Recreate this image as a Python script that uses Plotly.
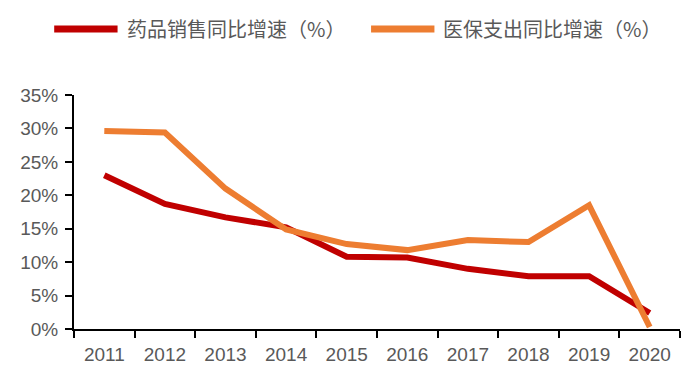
import plotly.graph_objects as go

years = ["2011", "2012", "2013", "2014", "2015", "2016", "2017", "2018", "2019", "2020"]
drug_sales = [23.0, 18.7, 16.7, 15.2, 10.8, 10.7, 9.0, 7.9, 7.9, 2.4]
insurance_spend = [29.6, 29.4, 21.0, 14.9, 12.7, 11.8, 13.3, 13.0, 18.5, 0.3]
names = ["药品销售同比增速（%）", "医保支出同比增速（%）"]
colors = ["#C00000", "#ED7D31"]
y_ticks = [0, 5, 10, 15, 20, 25, 30, 35]
y_labels = [f"{v}%" for v in y_ticks]

fig = go.Figure()
for vals, nm, c in zip([drug_sales, insurance_spend], names, colors):
    fig.add_trace(go.Scatter(x=years, y=vals, name=nm, mode="lines",
                             line=dict(color=c, width=6), showlegend=False))

# page offset (body margin) = 8px
OFF = 8
FW, FH = 695 - OFF, 388 - OFF
L, R, T, B = 68 - OFF, 15, 95 - OFF, 59
W, H = FW - L - R, FH - T - B
def px(x): return (x - OFF - L) / W
def py(y): return (FH - B - (y - OFF)) / H

legend_items = [(48, 112, 119), (368, 432, 439)]
for (x0, x1, tx), nm, c in zip(legend_items, names, colors):
    fig.add_shape(type="line", xref="paper", yref="paper",
                  x0=px(x0), x1=px(x1), y0=py(29), y1=py(29),
                  line=dict(color=c, width=7))
    fig.add_annotation(xref="paper", yref="paper", x=px(tx), y=py(29),
                       text=nm, showarrow=False, xanchor="left", yanchor="middle",
                       font=dict(family="Noto Sans CJK SC", size=20, color="#595959"))

fig.update_layout(
    width=FW, height=FH,
    margin=dict(l=L, r=R, t=T, b=B),
    paper_bgcolor="white", plot_bgcolor="white",
    font=dict(family="Liberation Sans", size=19, color="#595959"),
    xaxis=dict(range=[-0.5, 9.5], showline=True, linecolor="black", linewidth=2,
               ticks="outside", ticklen=7, tickcolor="black", tickwidth=2,
               tickson="boundaries", showgrid=False, zeroline=False,
               ticklabelstandoff=7,
               tickfont=dict(size=19, color="#595959")),
    yaxis=dict(range=[0, 35], tickvals=y_ticks, ticktext=y_labels,
               showline=True, linecolor="black", linewidth=2,
               ticks="outside", ticklen=7, tickcolor="black", tickwidth=2,
               showgrid=False, zeroline=False, ticklabelstandoff=3,
               tickfont=dict(size=19, color="#595959")),
)
fig.write_html("out.html")
